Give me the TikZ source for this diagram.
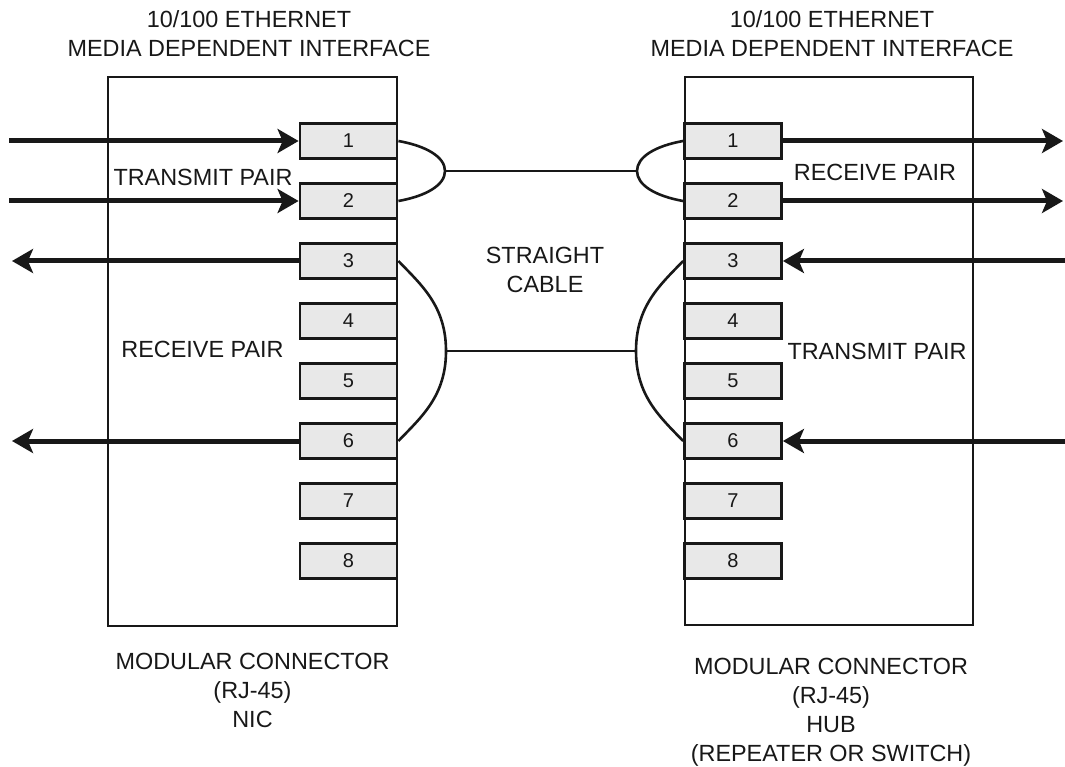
\documentclass[tikz,border=0pt]{standalone}
\usepackage{fontspec}
\setmainfont{Liberation Sans}
\usetikzlibrary{arrows.meta}
\definecolor{pinfill}{RGB}{232,232,232}
\definecolor{ink}{RGB}{24,24,24}
\begin{document}
\begin{tikzpicture}[x=1pt,y=-1pt,
  box/.style={draw=ink, line width=2.8pt, inner sep=0pt},
  pin/.style={draw=ink, fill=pinfill, line width=2.8pt, minimum width=97pt, minimum height=35pt, inner sep=0pt, font=\fontsize{20}{24}\selectfont, text=ink},
  lbl/.style={font=\fontsize{23.4}{29}\selectfont, text=ink, align=center, inner sep=0pt},
  sig/.style={line width=5pt, draw=ink, -{Stealth[length=21pt,width=24pt,inset=5pt]}},
  wire/.style={draw=ink, line width=2.6pt},
  cable/.style={draw=ink, line width=2pt}]
\useasboundingbox (0,0) rectangle (1065,767);

% connector housings
\node[box, minimum width=289pt, minimum height=549pt] (nic) at (252.5,351.5) {};
\node[box, minimum width=288pt, minimum height=548pt] (hub) at (829,351) {};

% signal arrows
\coordinate (a1) at (9,141);
\coordinate (a2) at (9,201);
\coordinate (a3) at (12,261);
\coordinate (a6) at (12,441);
\coordinate (b1) at (1063,141);
\coordinate (b2) at (1063,201);
\coordinate (b3) at (1065,261);
\coordinate (b6) at (1065,441);

% pins
\foreach \i/\y in {1/141,2/201,3/261,4/321,5/381,6/441,7/501,8/561}{
  \node[pin] (L\i) at (348.5,\y) {\i};
  \node[pin] (R\i) at (733,\y) {\i};
}

\draw[sig] (a1) -- (L1.west);
\draw[sig] (a2) -- (L2.west);
\draw[sig] (L3.west) -- (a3);
\draw[sig] (L6.west) -- (a6);
\draw[sig] (R1.east) -- (b1);
\draw[sig] (R2.east) -- (b2);
\draw[sig] (b3) -- (R3.east);
\draw[sig] (b6) -- (R6.east);

% pair junctions
\coordinate (ca) at (445,171);
\coordinate (cb) at (446,351);
\coordinate (da) at (637,171);
\coordinate (db) at (636,351);

\draw[wire] (L1.east) .. controls +(28,5) and +(0,-14) .. (ca) .. controls +(0,14) and +(28,-5) .. (L2.east);
\draw[wire] (L3.east) .. controls +(23,24) and +(0,-45) .. (cb) .. controls +(0,45) and +(23,-24) .. (L6.east);
\draw[wire] (R1.west) .. controls +(-28,5) and +(0,-14) .. (da) .. controls +(0,14) and +(-28,-5) .. (R2.west);
\draw[wire] (R3.west) .. controls +(-23,24) and +(0,-45) .. (db) .. controls +(0,45) and +(-23,-24) .. (R6.west);

\draw[cable] (ca) -- (da);
\draw[cable] (cb) -- (db);

% labels
\node[lbl] (t1) at (249,33.5) {10/100 ETHERNET\\MEDIA DEPENDENT INTERFACE};
\node[lbl] (t2) at (832,33.5) {10/100 ETHERNET\\MEDIA DEPENDENT INTERFACE};
\node[lbl] (txL) at (203,177) {TRANSMIT PAIR};
\node[lbl] (rxL) at (202.5,349) {RECEIVE PAIR};
\node[lbl] (rxR) at (875,172) {RECEIVE PAIR};
\node[lbl] (txR) at (877,351) {TRANSMIT PAIR};
\node[lbl] (cab) at (545,269.5) {STRAIGHT\\CABLE};
\node[lbl] (bl) at (252.5,690) {MODULAR CONNECTOR\\(RJ-45)\\NIC};
\node[lbl] (br) at (831,712) {MODULAR CONNECTOR\\(RJ-45)\\HUB\\(REPEATER OR SWITCH)};
\end{tikzpicture}
\end{document}
